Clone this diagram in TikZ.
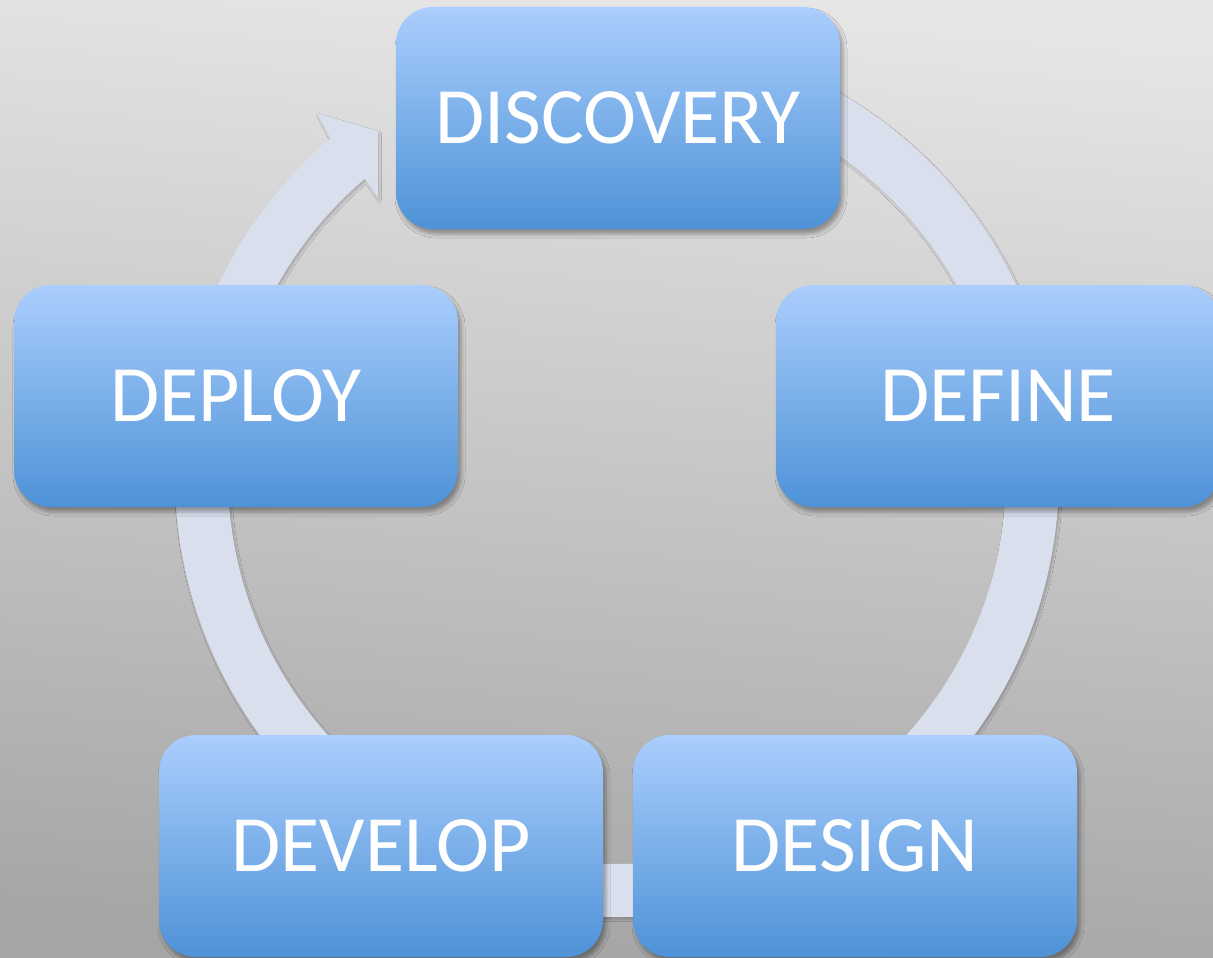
\documentclass[tikz,border=0pt]{standalone}
\usepackage{fontspec}
\setmainfont{Carlito}
\usetikzlibrary{shadows.blur}
\definecolor{bgtop}{HTML}{E6E6E6}
\definecolor{bgbot}{HTML}{A5A5A5}
\definecolor{boxtop}{HTML}{AACEFD}
\definecolor{boxbot}{HTML}{4E92D7}
\definecolor{bandcol}{HTML}{DADFEE}
\tikzset{
  stage/.style={rectangle, rounded corners=37pt, minimum width=444pt, minimum height=222pt,
    top color=boxtop, bottom color=boxbot, draw=none, text=white, inner sep=0pt,
    font=\fontsize{80}{96}\selectfont,
    blur shadow={shadow xshift=3pt, shadow yshift=-5pt, shadow blur radius=4pt, shadow opacity=35}},
  band/.style={fill=bandcol, draw=none,
    blur shadow={shadow xshift=1.5pt, shadow yshift=-2.5pt, shadow blur radius=2pt, shadow opacity=20}}
}
\begin{document}
\begin{tikzpicture}[x=1pt,y=1pt]
\useasboundingbox (0,0) rectangle (1213,-958);
\shade[top color=bgtop, bottom color=bgbot, shading angle=-5] (0,0) rectangle (1213,-958);
\coordinate (C) at (617,-475);
% circular band
\path[band] ([shift={(C)}]85:442) arc[start angle=85, end angle=-229.6, radius=442]
  -- (317,-113) -- (378,-131) -- (378,-198)
  -- ([shift={(C)}]130.4:389) arc[start angle=130.4, end angle=445, radius=389] -- cycle;
% stages
\node[stage] (discovery) at (618,-118) {DISCOVERY};
\node[stage] (define) at (998,-396) {DEFINE};
\node[stage] (design) at (855,-846) {DESIGN};
\node[stage] (develop) at (381,-846) {DEVELOP};
\node[stage] (deploy) at (236,-396) {DEPLOY};
\end{tikzpicture}
\end{document}
